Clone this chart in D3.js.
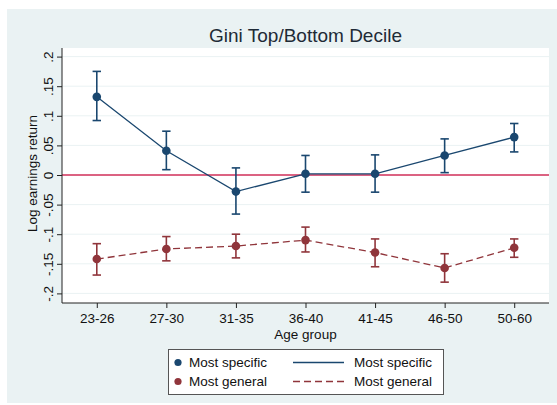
<!DOCTYPE html>
<html>
<head>
<meta charset="utf-8">
<script src="https://cdn.jsdelivr.net/npm/d3@7"></script>
<style>
  body { margin: 0; background: #fff; }
  svg { display: block; font-family: Arial, "Liberation Sans", sans-serif; }
</style>
</head>
<body>
<svg id="chart" width="557" height="405"></svg>
<script>
// Age groups on the x axis
const ageGroups = ["23-26", "27-30", "31-35", "36-40", "41-45", "46-50", "50-60"];

// Most specific: point estimate with 95% CI
const specificEst = [0.132, 0.041, -0.028, 0.002, 0.002, 0.033, 0.064];
const specificLo  = [0.092, 0.009, -0.066, -0.029, -0.029, 0.004, 0.039];
const specificHi  = [0.175, 0.074, 0.012, 0.033, 0.034, 0.061, 0.087];

// Most general: point estimate with 95% CI
const generalEst = [-0.142, -0.125, -0.120, -0.110, -0.131, -0.157, -0.123];
const generalLo  = [-0.169, -0.145, -0.140, -0.130, -0.155, -0.181, -0.139];
const generalHi  = [-0.116, -0.104, -0.100, -0.088, -0.108, -0.133, -0.108];

const yTicks = [-0.2, -0.15, -0.1, -0.05, 0, 0.05, 0.1, 0.15, 0.2];
const yTickLabels = ["-.2", "-.15", "-.1", "-.05", "0", ".05", ".1", ".15", ".2"];

const navy = "#1a476f";
const maroon = "#90353b";
const bg = "#eaf2f3";

const svg = d3.select("#chart");
const plot = { left: 62, right: 549, top: 48, bottom: 303 };

// Outer graph region
svg.append("rect").attr("x", 7).attr("y", 9).attr("width", 550).attr("height", 394).attr("fill", bg);
// Plot region
svg.append("rect").attr("x", plot.left).attr("y", plot.top)
  .attr("width", plot.right - plot.left).attr("height", plot.bottom - plot.top).attr("fill", "#fff");

const x = d3.scalePoint().domain(ageGroups).range([plot.left, plot.right]).padding(0.5);
const y = d3.scaleLinear().domain([0, 0.2]).range([175, 175 - 0.2 * 592]);

// Gridlines
svg.append("g").selectAll("line").data(yTicks).join("line")
  .attr("x1", plot.left).attr("x2", plot.right)
  .attr("y1", d => y(d)).attr("y2", d => y(d))
  .attr("stroke", bg).attr("stroke-width", 1);

// Zero reference line
svg.append("line").attr("x1", plot.left).attr("x2", plot.right)
  .attr("y1", y(0)).attr("y2", y(0)).attr("stroke", "#d3315a").attr("stroke-width", 1.3);

// Axes
const yAxis = d3.axisLeft(y).tickValues(yTicks).tickFormat((d, i) => yTickLabels[i]).tickSize(5).tickPadding(4);
const gy = svg.append("g").attr("transform", `translate(${plot.left},0)`).call(yAxis);
gy.select(".domain").attr("d", `M0,${plot.top}V${plot.bottom}`).attr("stroke", "#222");
gy.selectAll(".tick line").attr("stroke", "#222");
gy.selectAll(".tick text")
  .attr("font-size", 13.5).attr("fill", "#111")
  .attr("transform", "rotate(-90)")
  .attr("x", 0).attr("y", -9)
  .attr("dy", 0)
  .attr("text-anchor", "middle");

const xAxis = d3.axisBottom(x).tickSize(5).tickPadding(5);
const gx = svg.append("g").attr("transform", `translate(0,${plot.bottom})`).call(xAxis);
gx.select(".domain").attr("d", `M${plot.left},0H${plot.right}`).attr("stroke", "#222");
gx.selectAll(".tick line").attr("stroke", "#222");
gx.selectAll(".tick text").attr("font-size", 13.5).attr("fill", "#111");

// Axis titles
svg.append("text").attr("x", (plot.left + plot.right) / 2).attr("y", 339)
  .attr("text-anchor", "middle").attr("font-size", 13.5).attr("fill", "#111").text("Age group");
svg.append("text").attr("transform", `translate(37,${(plot.top + plot.bottom) / 2 - 2}) rotate(-90)`)
  .attr("text-anchor", "middle").attr("font-size", 13.5).attr("fill", "#111").text("Log earnings return");

// Title
svg.append("text").attr("x", (plot.left + plot.right) / 2).attr("y", 42)
  .attr("text-anchor", "middle").attr("font-size", 19).attr("fill", "#1e2a36").text("Gini Top/Bottom Decile");

// Series
function drawSeries(est, lo, hi, color, dash) {
  const g = svg.append("g");
  const line = d3.line().x((d, i) => x(ageGroups[i])).y(d => y(d));
  g.append("path").datum(est).attr("d", line).attr("fill", "none")
    .attr("stroke", color).attr("stroke-width", 1.3).attr("stroke-dasharray", dash);
  const bars = g.selectAll("g.ci").data(ageGroups).join("g").attr("class", "ci");
  bars.append("line").attr("x1", d => x(d)).attr("x2", d => x(d))
    .attr("y1", (d, i) => y(lo[i])).attr("y2", (d, i) => y(hi[i]))
    .attr("stroke", color).attr("stroke-width", 1.6);
  [lo, hi].forEach(arr => {
    bars.append("line").attr("x1", d => x(d) - 4.2).attr("x2", d => x(d) + 4.2)
      .attr("y1", (d, i) => y(arr[i])).attr("y2", (d, i) => y(arr[i]))
      .attr("stroke", color).attr("stroke-width", 1.6);
  });
  g.selectAll("circle").data(est).join("circle")
    .attr("cx", (d, i) => x(ageGroups[i])).attr("cy", d => y(d)).attr("r", 4.3).attr("fill", color);
}
drawSeries(specificEst, specificLo, specificHi, navy, null);
drawSeries(generalEst, generalLo, generalHi, maroon, "7,4");

// Legend
const lg = svg.append("g");
lg.append("rect").attr("x", 168.5).attr("y", 349.5).attr("width", 275).attr("height", 45)
  .attr("fill", "#fff").attr("stroke", "#555").attr("stroke-width", 1);
const legendItems = [
  { label: "Most specific", color: navy, dash: null, cy: 362.5 },
  { label: "Most general", color: maroon, dash: "7,4", cy: 381.5 }
];
legendItems.forEach(it => {
  lg.append("circle").attr("cx", 178).attr("cy", it.cy).attr("r", 3.6).attr("fill", it.color);
  lg.append("text").attr("x", 189).attr("y", it.cy + 4.6).attr("font-size", 13.5).attr("fill", "#111").text(it.label);
  lg.append("line").attr("x1", 293).attr("x2", 344).attr("y1", it.cy).attr("y2", it.cy)
    .attr("stroke", it.color).attr("stroke-width", 1.3).attr("stroke-dasharray", it.dash);
  lg.append("text").attr("x", 354).attr("y", it.cy + 4.6).attr("font-size", 13.5).attr("fill", "#111").text(it.label);
});
</script>
</body>
</html>
